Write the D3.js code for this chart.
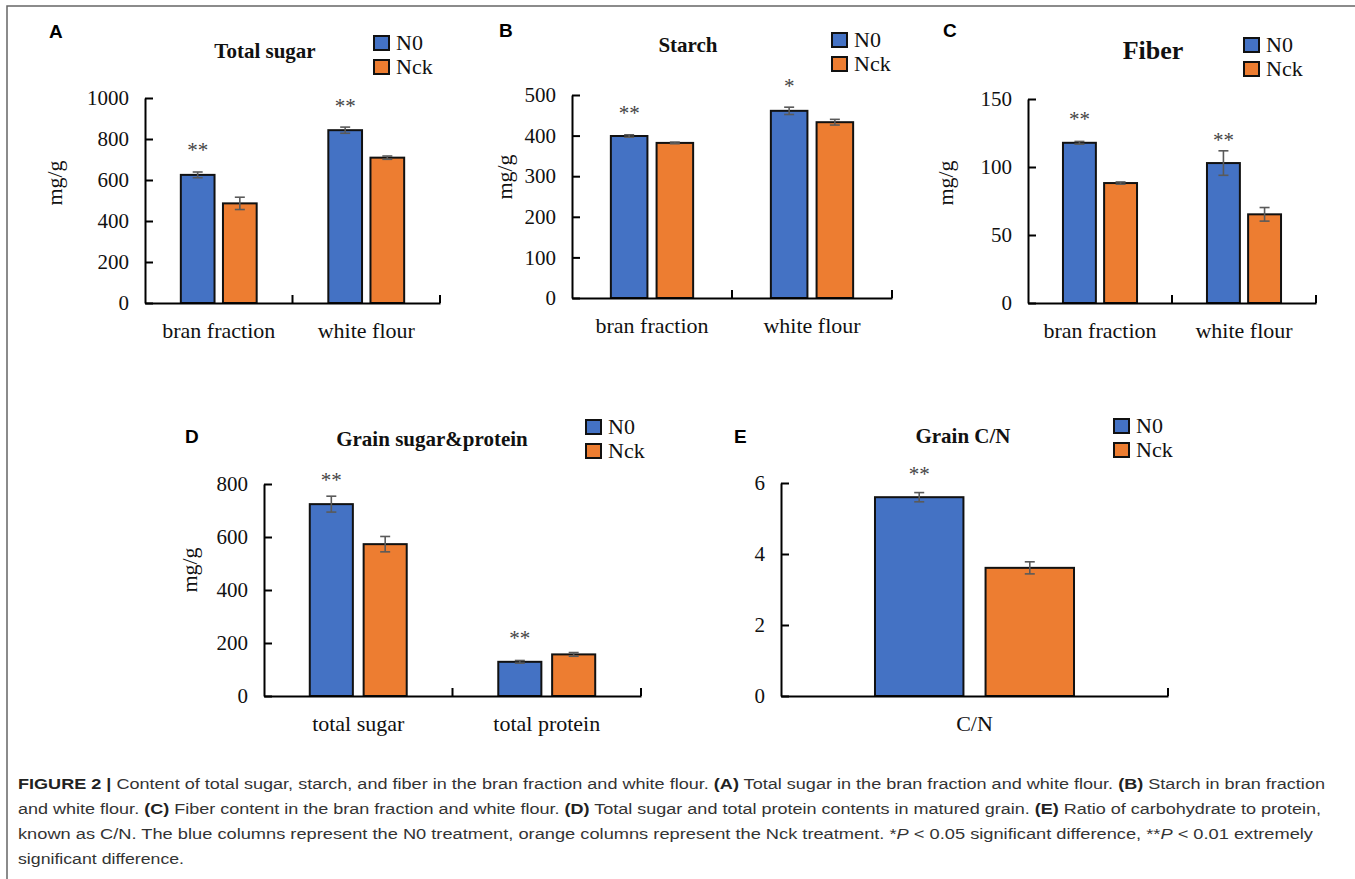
<!DOCTYPE html>
<html>
<head>
<meta charset="utf-8">
<script src="https://cdn.jsdelivr.net/npm/d3@7"></script>
<style>
  body { margin: 0; background: #fff; }
  svg { display: block; }
</style>
</head>
<body>
<div id="figure"></div>
<script>
// DATA
const series = ["N0", "Nck"];
const fractionCats = ["bran fraction", "white flour"];
const grainCats = ["total sugar", "total protein"];
const ratioCats = ["C/N"];

// A - total sugar (mg/g)
const sugarN0 = [625, 843];
const sugarN0Err = [14, 15];
const sugarNck = [486, 709];
const sugarNckErr = [30, 8];
const sugarStars = ["**", "**"];
const sugarStarLevel = [712, 927];
const sugarTicks = [0, 200, 400, 600, 800, 1000];

// B - starch (mg/g)
const starchN0 = [399, 461];
const starchN0Err = [3, 9];
const starchNck = [382, 433];
const starchNckErr = [2, 7];
const starchStars = ["**", "*"];
const starchStarLevel = [438, 505];
const starchTicks = [0, 100, 200, 300, 400, 500];

// C - fiber (mg/g)
const fiberN0 = [117.8, 102.9];
const fiberN0Err = [1, 9];
const fiberNck = [88.2, 65.2];
const fiberNckErr = [0.8, 5];
const fiberStars = ["**", "**"];
const fiberStarLevel = [130, 115];
const fiberTicks = [0, 50, 100, 150];

// D - grain sugar & protein (mg/g)
const grainN0 = [724, 129];
const grainN0Err = [30, 5];
const grainNck = [573, 157];
const grainNckErr = [29, 7];
const grainStars = ["**", "**"];
const grainStarLevel = [789, 192];
const grainTicks = [0, 200, 400, 600, 800];

// E - grain C/N
const ratioN0 = [5.6];
const ratioN0Err = [0.13];
const ratioNck = [3.61];
const ratioNckErr = [0.17];
const ratioStars = ["**"];
const ratioStarLevel = [6.06];
const ratioTicks = [0, 2, 4, 6];

const colors = { N0: "#4472C4", Nck: "#ED7D31" };

// LAYOUT
const WIDTH = 1355;
const HEIGHT = 879;
const SERIF = "'Liberation Serif', 'Times New Roman', serif";
const SANS = "'Liberation Sans', Arial, Helvetica, sans-serif";

const panels = [
  { tag: "A", tagX: 49, tagY: 38, title: "Total sugar", titleX: 265, titleY: 58, titleSize: 21,
    cats: fractionCats, n0: sugarN0, n0Err: sugarN0Err, nck: sugarNck, nckErr: sugarNckErr,
    stars: sugarStars, starLevel: sugarStarLevel, ticks: sugarTicks,
    x0: 145, x1: 440, y0: 303, y1: 98, ylabel: "mg/g", ylabelX: 55, ylabelY: 183,
    legendX: 374, legendY: 36 },
  { tag: "B", tagX: 499, tagY: 37, title: "Starch", titleX: 688, titleY: 52, titleSize: 21,
    cats: fractionCats, n0: starchN0, n0Err: starchN0Err, nck: starchNck, nckErr: starchNckErr,
    stars: starchStars, starLevel: starchStarLevel, ticks: starchTicks,
    x0: 572, x1: 892, y0: 298, y1: 95, ylabel: "mg/g", ylabelX: 505, ylabelY: 177,
    legendX: 832, legendY: 33 },
  { tag: "C", tagX: 943, tagY: 37, title: "Fiber", titleX: 1153, titleY: 59, titleSize: 26,
    cats: fractionCats, n0: fiberN0, n0Err: fiberN0Err, nck: fiberNck, nckErr: fiberNckErr,
    stars: fiberStars, starLevel: fiberStarLevel, ticks: fiberTicks,
    x0: 1028, x1: 1316, y0: 303, y1: 99, ylabel: "mg/g", ylabelX: 946, ylabelY: 183,
    legendX: 1244, legendY: 38 },
  { tag: "D", tagX: 185, tagY: 443, title: "Grain sugar&protein", titleX: 432, titleY: 446, titleSize: 21,
    cats: grainCats, n0: grainN0, n0Err: grainN0Err, nck: grainNck, nckErr: grainNckErr,
    stars: grainStars, starLevel: grainStarLevel, ticks: grainTicks,
    x0: 264, x1: 641, y0: 696, y1: 484, ylabel: "mg/g", ylabelX: 190, ylabelY: 570,
    legendX: 586, legendY: 420 },
  { tag: "E", tagX: 734, tagY: 443, title: "Grain C/N", titleX: 963, titleY: 443, titleSize: 21,
    cats: ratioCats, n0: ratioN0, n0Err: ratioN0Err, nck: ratioNck, nckErr: ratioNckErr,
    stars: ratioStars, starLevel: ratioStarLevel, ticks: ratioTicks,
    x0: 781, x1: 1168, y0: 696, y1: 483, ylabel: null,
    legendX: 1114, legendY: 419 }
];

const captionLines = [
  [["b", "FIGURE 2 | "], ["r", "Content of total sugar, starch, and fiber in the bran fraction and white flour. "],
   ["b", "(A)"], ["r", " Total sugar in the bran fraction and white flour. "], ["b", "(B)"], ["r", " Starch in bran fraction"]],
  [["r", "and white flour. "], ["b", "(C)"], ["r", " Fiber content in the bran fraction and white flour. "],
   ["b", "(D)"], ["r", " Total sugar and total protein contents in matured grain. "], ["b", "(E)"],
   ["r", " Ratio of carbohydrate to protein,"]],
  [["r", "known as C/N. The blue columns represent the N0 treatment, orange columns represent the Nck treatment. *"],
   ["i", "P"], ["r", " < 0.05 significant difference, **"], ["i", "P"], ["r", " < 0.01 extremely"]],
  [["r", "significant difference."]]
];
const captionWidths = [1307, 1303, 1295, 166];

const svg = d3.select("#figure")
  .append("svg")
  .attr("width", WIDTH)
  .attr("height", HEIGHT);

// figure frame (top and left rules)
svg.append("path")
  .attr("d", `M7,${HEIGHT} V6 H${WIDTH}`)
  .attr("fill", "none")
  .attr("stroke", "#666")
  .attr("stroke-width", 1.5);

const drawPanel = (p) => {
  const g = svg.append("g");

  const y = d3.scaleLinear()
    .domain([0, d3.max(p.ticks)])
    .range([p.y0, p.y1]);

  const x = d3.scaleBand()
    .domain(p.cats)
    .range([p.x0, p.x1])
    .padding(0);

  const xs = d3.scaleBand()
    .domain(series)
    .range([0, x.bandwidth()])
    .paddingInner(0.2)
    .paddingOuter(0.85);

  const rows = p.cats.map((c, i) => ({
    cat: c,
    values: [
      { s: "N0", v: p.n0[i], e: p.n0Err[i] },
      { s: "Nck", v: p.nck[i], e: p.nckErr[i] }
    ],
    star: p.stars[i],
    starLevel: p.starLevel[i]
  }));

  // y axis with inward ticks
  const yAxis = g.append("g")
    .attr("transform", `translate(${p.x0},0)`)
    .call(d3.axisLeft(y)
      .tickValues(p.ticks)
      .tickFormat(d3.format("d"))
      .tickSizeInner(-8)
      .tickSizeOuter(0)
      .tickPadding(16))
    .attr("font-family", SERIF)
    .attr("font-size", 21);
  yAxis.select(".domain").attr("stroke", "#000").attr("stroke-width", 2);
  yAxis.selectAll(".tick line").attr("stroke", "#000").attr("stroke-width", 2);
  yAxis.selectAll(".tick text").attr("fill", "#111");

  // bars
  const groups = g.selectAll(".cat")
    .data(rows)
    .enter()
    .append("g")
    .attr("transform", d => `translate(${x(d.cat)},0)`);

  groups.selectAll("rect")
    .data(d => d.values)
    .enter()
    .append("rect")
    .attr("x", d => xs(d.s))
    .attr("width", xs.bandwidth())
    .attr("y", d => y(d.v))
    .attr("height", d => y(0) - y(d.v))
    .attr("fill", d => colors[d.s])
    .attr("stroke", "#111")
    .attr("stroke-width", 2);

  // error bars
  const err = groups.selectAll(".err")
    .data(d => d.values)
    .enter()
    .append("g")
    .attr("stroke", "#5a5a5a")
    .attr("stroke-width", 1.6)
    .attr("transform", d => `translate(${xs(d.s) + xs.bandwidth() / 2},0)`);
  err.append("line")
    .attr("y1", d => y(d.v - d.e))
    .attr("y2", d => y(d.v + d.e));
  err.append("line")
    .attr("x1", -5).attr("x2", 5)
    .attr("y1", d => y(d.v + d.e)).attr("y2", d => y(d.v + d.e));
  err.append("line")
    .attr("x1", -5).attr("x2", 5)
    .attr("y1", d => y(d.v - d.e)).attr("y2", d => y(d.v - d.e));

  // significance stars over N0
  groups.append("text")
    .attr("x", xs("N0") + xs.bandwidth() / 2)
    .attr("y", d => y(d.starLevel))
    .attr("text-anchor", "middle")
    .attr("font-family", SERIF)
    .attr("font-size", 21)
    .attr("fill", "#444")
    .text(d => d.star);

  // x axis
  const xAxis = g.append("g")
    .attr("transform", `translate(0,${p.y0})`)
    .call(d3.axisBottom(x).tickSize(0).tickPadding(19))
    .attr("font-family", SERIF)
    .attr("font-size", 22);
  xAxis.select(".domain").attr("stroke", "#000").attr("stroke-width", 2);
  xAxis.selectAll(".tick text").attr("fill", "#111");

  // category boundary ticks (inward)
  g.selectAll(".bound")
    .data(p.cats)
    .enter()
    .append("line")
    .attr("x1", d => x(d) + x.bandwidth())
    .attr("x2", d => x(d) + x.bandwidth())
    .attr("y1", p.y0)
    .attr("y2", p.y0 - 8)
    .attr("stroke", "#000")
    .attr("stroke-width", 2);

  // y label
  if (p.ylabel) {
    g.append("text")
      .attr("transform", `translate(${p.ylabelX},${p.ylabelY}) rotate(-90)`)
      .attr("text-anchor", "middle")
      .attr("dy", "0.3em")
      .attr("font-family", SERIF)
      .attr("font-size", 22)
      .attr("fill", "#111")
      .text(p.ylabel);
  }

  // title
  g.append("text")
    .attr("x", p.titleX)
    .attr("y", p.titleY)
    .attr("text-anchor", "middle")
    .attr("font-family", SERIF)
    .attr("font-weight", "bold")
    .attr("font-size", p.titleSize)
    .attr("fill", "#111")
    .text(p.title);

  // panel tag
  g.append("text")
    .attr("x", p.tagX)
    .attr("y", p.tagY)
    .attr("font-family", SANS)
    .attr("font-weight", "bold")
    .attr("font-size", 19)
    .attr("fill", "#000")
    .text(p.tag);

  // legend
  const leg = g.selectAll(".leg")
    .data(series)
    .enter()
    .append("g")
    .attr("transform", (d, i) => `translate(${p.legendX},${p.legendY + i * 24})`);
  leg.append("rect")
    .attr("width", 15)
    .attr("height", 14)
    .attr("fill", d => colors[d])
    .attr("stroke", "#111")
    .attr("stroke-width", 2);
  leg.append("text")
    .attr("x", 22)
    .attr("y", 14)
    .attr("font-family", SERIF)
    .attr("font-size", 22)
    .attr("fill", "#111")
    .text(d => d);
};

panels.forEach(drawPanel);

// caption
const caption = svg.append("g")
  .attr("font-family", SANS)
  .attr("font-size", 15.5)
  .attr("fill", "#333");

captionLines.forEach((line, i) => {
  const t = caption.append("text")
    .attr("x", 18)
    .attr("y", 789 + i * 25)
    .attr("textLength", captionWidths[i])
    .attr("lengthAdjust", "spacingAndGlyphs")
    .style("white-space", "pre");
  line.forEach(([kind, str]) => {
    t.append("tspan")
      .attr("font-weight", kind === "b" ? "bold" : null)
      .attr("font-style", kind === "i" ? "italic" : null)
      .attr("fill", kind === "b" ? "#222" : null)
      .text(str);
  });
});
</script>
</body>
</html>
